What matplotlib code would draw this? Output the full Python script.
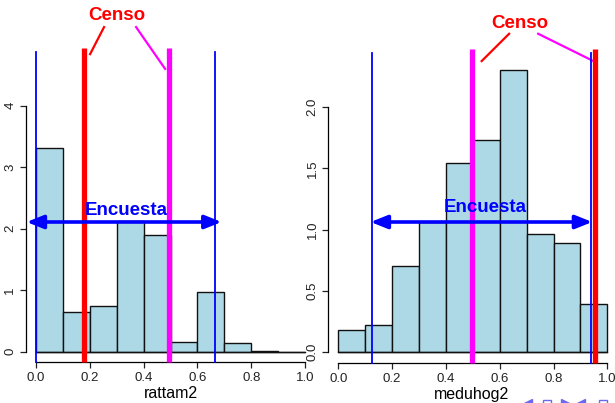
import matplotlib
matplotlib.use("Agg")
import matplotlib.pyplot as plt
import numpy as np

plt.rcParams['font.family'] = ['Liberation Sans', 'DejaVu Sans']

# Data
bin_edges = [0.0, 0.1, 0.2, 0.3, 0.4, 0.5, 0.6, 0.7, 0.8, 0.9, 1.0]
rattam2_density = [3.32, 0.65, 0.74, 2.13, 1.90, 0.16, 0.97, 0.14, 0.02, 0.0]
meduhog2_density = [0.18, 0.22, 0.70, 1.06, 1.54, 1.73, 2.30, 0.96, 0.89, 0.39]

# Reference lines: survey interval (blue), census values (red, magenta)
rattam2_encuesta = [0.0, 0.665]
rattam2_censo_red = 0.178
rattam2_censo_mag = 0.494
meduhog2_encuesta = [0.126, 0.938]
meduhog2_censo_red = 0.954
meduhog2_censo_mag = 0.497

x_ticks = [0.0, 0.2, 0.4, 0.6, 0.8, 1.0]
left_yticks = [0, 1, 2, 3, 4]
right_yticks = [0.0, 0.5, 1.0, 1.5, 2.0]

W, H = 615, 403
fig = plt.figure(figsize=(W / 100, H / 100), dpi=100)

def px_axes(x0, x1, y_top, y_bot):
    return fig.add_axes([x0 / W, 1 - y_bot / H, (x1 - x0) / W, (y_bot - y_top) / H])

BLUE = '#0000FF'
RED = '#FF0000'
MAG = '#FF00FF'
FILL = '#ADD8E6'

def setup(ax, yticks, ylabels, xlabel):
    for s in ['top', 'right']:
        ax.spines[s].set_visible(False)
    ax.spines['left'].set_bounds(yticks[0], yticks[-1])
    ax.spines['bottom'].set_bounds(0, 1)
    for s in ['left', 'bottom']:
        ax.spines[s].set_linewidth(0.9)
    ax.set_xticks(x_ticks)
    ax.set_xticklabels(['%.1f' % v for v in x_ticks])
    ax.set_yticks(yticks)
    ax.set_yticklabels(ylabels, rotation=90, va='center')
    ax.tick_params(axis='both', length=4, width=0.9, labelsize=9.5, pad=3, colors='#222222')
    ax.set_xlabel(xlabel, fontsize=11.5, labelpad=2)

def draw_panel(ax, dens, enc, c_red, c_mag, top, bottom):
    widths = np.diff(bin_edges)
    ax.bar(bin_edges[:-1], dens, width=widths, align='edge', color=FILL,
           edgecolor='#111111', linewidth=1.0, zorder=2)
    ax.plot([bin_edges[0], bin_edges[-1]], [0, 0], color='#111111', lw=1.0, zorder=2)
    for v in enc:
        ax.plot([v, v], [bottom, top], color=BLUE, lw=1.3, zorder=3, clip_on=False)
    thick_top = top + (top - bottom) * 0.013
    ax.plot([c_red, c_red], [bottom, thick_top], color=RED, lw=3.8, zorder=4, clip_on=False, solid_capstyle='butt')
    ax.plot([c_mag, c_mag], [bottom, thick_top], color=MAG, lw=3.8, zorder=4, clip_on=False, solid_capstyle='butt')

ARROW = dict(arrowstyle='<|-|>,head_length=1.0,head_width=0.4', color=BLUE, lw=2.6,
             shrinkA=0, shrinkB=0)

# ---------- Left panel ----------
axL = px_axes(26, 316, 40, 362)
axL.set_xlim(-0.0372, 1.0409)
axL.set_ylim(-0.167, 5.07)
draw_panel(axL, rattam2_density, rattam2_encuesta, rattam2_censo_red, rattam2_censo_mag, 4.87, -0.17)
setup(axL, left_yticks, [str(v) for v in left_yticks], 'rattam2')
axL.annotate('', xy=(-0.035, 2.11), xytext=(0.69, 2.11), arrowprops=ARROW,
             zorder=5, annotation_clip=False)
axL.text(0.335, 2.29, 'Encuesta', color=BLUE, fontsize=13.5, fontweight='bold', ha='center', va='center', zorder=6)
axL.text(0.30, 5.47, 'Censo', color=RED, fontsize=13.5, fontweight='bold', ha='center', va='center', clip_on=False)
axL.plot([0.253, 0.201], [5.28, 4.84], color=RED, lw=1.6, clip_on=False)
axL.plot([0.372, 0.48], [5.28, 4.60], color=MAG, lw=1.6, clip_on=False)

# ---------- Right panel ----------
axR = px_axes(328.3, 615, 40, 363)
axR.set_xlim(-0.0372, 1.0286)
axR.set_ylim(-0.09, 2.549)
draw_panel(axR, meduhog2_density, meduhog2_encuesta, meduhog2_censo_red, meduhog2_censo_mag, 2.445, -0.09)
setup(axR, right_yticks, ['%.1f' % v for v in right_yticks], 'meduhog2')
axR.annotate('', xy=(meduhog2_encuesta[0] - 0.006, 1.062), xytext=(meduhog2_encuesta[1] + 0.006, 1.062),
             arrowprops=ARROW, zorder=5, annotation_clip=False)
axR.text(0.545, 1.18, 'Encuesta', color=BLUE, fontsize=13.5, fontweight='bold', ha='center', va='center', zorder=6)
axR.text(0.675, 2.68, 'Censo', color=RED, fontsize=13.5, fontweight='bold', ha='center', va='center', clip_on=False)
axR.plot([0.635, 0.533], [2.60, 2.377], color=RED, lw=1.6, clip_on=False)
axR.plot([0.743, 0.948], [2.60, 2.377], color=MAG, lw=1.6, clip_on=False)

# Slide navigation symbols (mostly cut off at bottom-right)
NAV = '#6A6AF0'
nav = [(527, '<'), (547, 's'), (566, '>'), (580, '<'), (603, 's')]
for xp, m in nav:
    fig.lines.append(plt.Line2D([xp / W], [1 - 404 / H], marker=m, markersize=6 if m == 's' else 7,
                                color=NAV, markerfacecolor='white' if m == 's' else NAV,
                                markeredgewidth=1.0, transform=fig.transFigure, linestyle='none'))

fig.savefig('out.png', dpi=100)
